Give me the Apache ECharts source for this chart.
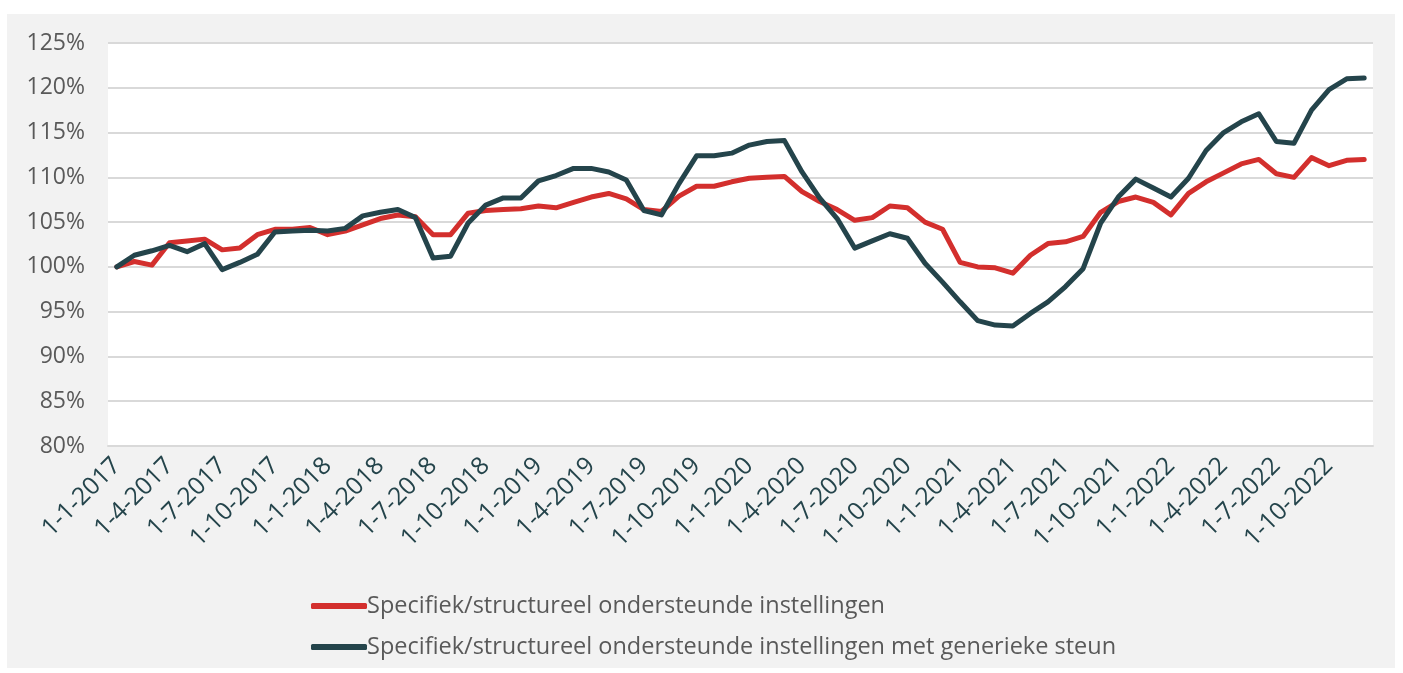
<!DOCTYPE html>
<html>
<head>
<meta charset="utf-8">
<script src="https://cdn.jsdelivr.net/npm/echarts@6/dist/echarts.min.js"></script>
<style>
  html, body { margin: 0; padding: 0; background: #ffffff; }
  #frame { position: absolute; left: 7px; top: 14px; width: 1388px; height: 654px; background: #f2f2f2; }
  #chart { position: absolute; left: 0; top: 0; width: 1403px; height: 673px; }
</style>
</head>
<body>
<div id="frame"></div>
<div id="chart"></div>
<script>
// maanden (eerste dag van de maand)
const maanden = [
  '1-1-2017','1-2-2017','1-3-2017','1-4-2017','1-5-2017','1-6-2017','1-7-2017','1-8-2017','1-9-2017','1-10-2017','1-11-2017','1-12-2017',
  '1-1-2018','1-2-2018','1-3-2018','1-4-2018','1-5-2018','1-6-2018','1-7-2018','1-8-2018','1-9-2018','1-10-2018','1-11-2018','1-12-2018',
  '1-1-2019','1-2-2019','1-3-2019','1-4-2019','1-5-2019','1-6-2019','1-7-2019','1-8-2019','1-9-2019','1-10-2019','1-11-2019','1-12-2019',
  '1-1-2020','1-2-2020','1-3-2020','1-4-2020','1-5-2020','1-6-2020','1-7-2020','1-8-2020','1-9-2020','1-10-2020','1-11-2020','1-12-2020',
  '1-1-2021','1-2-2021','1-3-2021','1-4-2021','1-5-2021','1-6-2021','1-7-2021','1-8-2021','1-9-2021','1-10-2021','1-11-2021','1-12-2021',
  '1-1-2022','1-2-2022','1-3-2022','1-4-2022','1-5-2022','1-6-2022','1-7-2022','1-8-2022','1-9-2022','1-10-2022','1-11-2022','1-12-2022'
];

// specifiek/structureel ondersteunde instellingen (%)
const specifiek = [
  100.0, 100.6, 100.2, 102.7, 102.9, 103.1, 101.9, 102.1, 103.6, 104.2, 104.2, 104.4,
  103.6, 104.0, 104.7, 105.4, 105.8, 105.6, 103.6, 103.6, 106.0, 106.3, 106.4, 106.5,
  106.8, 106.6, 107.2, 107.8, 108.2, 107.6, 106.4, 106.2, 107.9, 109.0, 109.0, 109.5,
  109.9, 110.0, 110.1, 108.4, 107.3, 106.4, 105.2, 105.5, 106.8, 106.6, 105.0, 104.2,
  100.5, 100.0, 99.9, 99.3, 101.3, 102.6, 102.8, 103.4, 106.1, 107.3, 107.8, 107.2,
  105.8, 108.2, 109.5, 110.5, 111.5, 112.0, 110.4, 110.0, 112.2, 111.3, 111.9, 112.0
];

// specifiek/structureel ondersteunde instellingen met generieke steun (%)
const metGeneriek = [
  100.0, 101.3, 101.8, 102.4, 101.7, 102.6, 99.7, 100.5, 101.4, 103.9, 104.0, 104.1,
  104.0, 104.3, 105.7, 106.1, 106.4, 105.5, 101.0, 101.2, 104.9, 106.9, 107.7, 107.7,
  109.6, 110.2, 111.0, 111.0, 110.6, 109.7, 106.3, 105.8, 109.3, 112.4, 112.4, 112.7,
  113.6, 114.0, 114.1, 110.6, 107.7, 105.4, 102.1, 102.9, 103.7, 103.2, 100.4, 98.3,
  96.1, 94.0, 93.5, 93.4, 94.8, 96.1, 97.8, 99.8, 104.9, 107.8, 109.8, 108.8,
  107.8, 109.9, 113.0, 115.0, 116.2, 117.1, 114.0, 113.8, 117.5, 119.8, 121.0, 121.1
];

const yTicks = { min: 80, max: 125, step: 5 };

const font = '"Open Sans", Lato, sans-serif';
const chart = echarts.init(document.getElementById('chart'));

chart.setOption({
  backgroundColor: 'transparent',
  animation: false,
  color: ['#d32f2d', '#24444b'],
  grid: {
    left: 108,
    right: 30,
    top: 43,
    bottom: 227,
    show: true,
    backgroundColor: '#ffffff',
    borderWidth: 0
  },
  legend: {
    orient: 'vertical',
    left: 306,
    top: 589,
    icon: 'roundRect',
    itemWidth: 56,
    itemHeight: 6,
    itemGap: 17,
    textStyle: { fontFamily: font, fontSize: 23.5, color: '#595959', padding: [0, 0, 0, -5] },
    data: ['Specifiek/structureel ondersteunde instellingen',
           'Specifiek/structureel ondersteunde instellingen met generieke steun']
  },
  xAxis: {
    type: 'category',
    data: maanden,
    boundaryGap: true,
    axisLine: { lineStyle: { color: '#d9d9d9', width: 2 } },
    axisTick: { interval: 2, length: 7, lineStyle: { color: '#d9d9d9', width: 1.5 } },
    axisLabel: {
      interval: 2,
      rotate: 45,
      margin: 16,
      fontFamily: font,
      fontSize: 24.5,
      color: '#24444b'
    }
  },
  yAxis: {
    type: 'value',
    min: yTicks.min,
    max: yTicks.max,
    interval: yTicks.step,
    axisLine: { show: false },
    axisTick: { show: false },
    splitLine: { lineStyle: { color: '#d9d9d9', width: 2 } },
    axisLabel: {
      formatter: '{value}%',
      margin: 23,
      fontFamily: font,
      fontSize: 23,
      color: '#595959'
    }
  },
  series: [
    {
      name: 'Specifiek/structureel ondersteunde instellingen',
      type: 'line',
      data: specifiek,
      symbol: 'none',
      lineStyle: { width: 5, cap: 'round', join: 'round' }
    },
    {
      name: 'Specifiek/structureel ondersteunde instellingen met generieke steun',
      type: 'line',
      data: metGeneriek,
      symbol: 'none',
      lineStyle: { width: 5, cap: 'round', join: 'round' }
    }
  ]
});
</script>
</body>
</html>
